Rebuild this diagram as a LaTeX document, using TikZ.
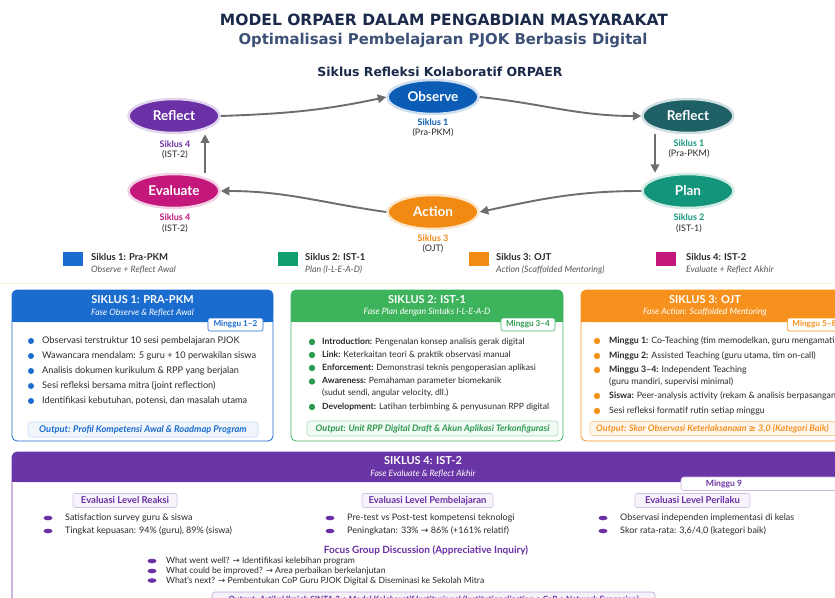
\documentclass[tikz,border=0pt]{standalone}
\usepackage{fontspec}
\usepackage{graphicx}
\setmainfont{Lato}
\newfontfamily\dvs{DejaVu Sans}
\usetikzlibrary{shapes.geometric,arrows.meta}
\newcommand{\rarw}{{\dvs\char"2192}}
\newcommand{\mygeq}{{\dvs\char"2265}}
\definecolor{navy}{HTML}{1B2A4A}
\definecolor{subt}{HTML}{3D5075}
\definecolor{txt}{HTML}{2A2A2A}
\definecolor{gtx}{HTML}{555555}
\definecolor{agray}{HTML}{6E6E6E}
\definecolor{obsblue}{HTML}{0B5CB5}
\definecolor{rteal}{HTML}{1F5F66}
\definecolor{pteal}{HTML}{12957A}
\definecolor{corange}{HTML}{F08A12}
\definecolor{cmag}{HTML}{C4177C}
\definecolor{cpurp}{HTML}{6B30A6}
\definecolor{cblue}{HTML}{1A6CCF}
\definecolor{cgreen}{HTML}{3DB35C}
\definecolor{dgreen}{HTML}{2E9A50}
\definecolor{corg}{HTML}{F7911E}
\definecolor{hpurp}{HTML}{6A35A6}
\begin{document}
\begin{tikzpicture}[x=1pt,y=-1pt,
  cyc/.style={ellipse,minimum width=91pt,minimum height=34pt,inner sep=0pt,text=white,font=\bfseries\fontsize{13.5}{15}\selectfont,line width=2.5pt},
  lab/.style={font=\bfseries\fontsize{9}{10}\selectfont,inner sep=0pt},
  sub/.style={font=\fontsize{9}{10}\selectfont,text=txt,inner sep=0pt},
  flow/.style={draw=agray,line width=1.9pt,-{Triangle[length=8.5pt,width=8.5pt]}},
  legt/.style={anchor=west,inner sep=0pt,font=\bfseries\fontsize{9.5}{11}\selectfont,text=txt},
  legs/.style={anchor=west,inner sep=0pt,font=\itshape\fontsize{8.8}{10}\selectfont,text=gtx},
  hd/.style={text=white,font=\bfseries\fontsize{11}{13}\selectfont,inner sep=0pt},
  hdsub/.style={text=white,font=\itshape\fontsize{8.7}{10}\selectfont,inner sep=0pt},
  tagbox/.style={draw,fill=white,rounded corners=2pt,font=\bfseries\fontsize{8.2}{9}\selectfont,inner sep=0pt,minimum height=13pt,line width=0.6pt},
  btxt/.style={anchor=west,inner sep=0pt,font=\fontsize{9.2}{11}\selectfont,text=txt},
  stxt/.style={anchor=west,inner sep=0pt,font=\fontsize{9}{10}\selectfont,text=txt},
  outb/.style={rounded corners=3pt,inner sep=0pt,minimum height=15pt,line width=0.6pt,font=\bfseries\itshape\fontsize{9.3}{10}\selectfont},
  lvl/.style={draw=cpurp!30,fill=cpurp!6,rounded corners=2pt,inner sep=0pt,minimum height=14pt,text=cpurp,font=\bfseries\fontsize{9.5}{10}\selectfont,line width=0.6pt}
]
\useasboundingbox (0,0) rectangle (835,597);
\clip (0,0) rectangle (835,597);
\fill[white] (0,0) rectangle (835,597);

% titles
\node[inner sep=0pt,text=navy,font=\dvs\bfseries] (t1) at (444,20) {\resizebox{448pt}{!}{MODEL ORPAER DALAM PENGABDIAN MASYARAKAT}};
\node[inner sep=0pt,text=subt,font=\dvs\bfseries] (t2) at (443,40) {\resizebox{409pt}{!}{Optimalisasi Pembelajaran PJOK Berbasis Digital}};
\node[inner sep=0pt,text=navy,font=\dvs\bfseries] (t3) at (440,71.5) {\resizebox{245pt}{!}{Siklus Refleksi Kolaboratif ORPAER}};

% cycle
\node[cyc,fill=obsblue,draw=obsblue!20] (ob) at (433,97) {Observe};
\node[cyc,fill=rteal,draw=rteal!20] (rr) at (688,116) {Reflect};
\node[cyc,fill=pteal,draw=pteal!20] (pl) at (688,191) {Plan};
\node[cyc,fill=corange,draw=corange!20] (ac) at (433,212) {Action};
\node[cyc,fill=cmag,draw=cmag!20] (ev) at (174,191) {Evaluate};
\node[cyc,fill=cpurp,draw=cpurp!20] (rl) at (174,116) {Reflect};

\node[lab,text=obsblue] (obl1) at (433,122) {Siklus 1};
\node[sub] (obl2) at (433,133) {(Pra-PKM)};
\node[lab,text=pteal] (rrl1) at (689,143) {Siklus 1};
\node[sub] (rrl2) at (689,154) {(Pra-PKM)};
\node[lab,text=pteal] (pll1) at (689,217) {Siklus 2};
\node[sub] (pll2) at (689,229) {(IST-1)};
\node[lab,text=corange] (acl1) at (433,238) {Siklus 3};
\node[sub] (acl2) at (433,249) {(OJT)};
\node[lab,text=cmag] (evl1) at (175,217) {Siklus 4};
\node[sub] (evl2) at (175,229) {(IST-2)};
\node[lab,text=cpurp] (rll1) at (175,144) {Siklus 4};
\node[sub] (rll2) at (175,155) {(IST-2)};

\draw[flow] (rl.east) to[out=2,in=192] (ob.west);
\draw[flow] (ob.east) to[out=-6,in=180] (rr.west);
\draw[flow] ([xshift=-33pt]rr.south) -- ([xshift=-33pt]pl.north);
\draw[flow] (pl.west) to[out=180,in=12] (ac.east);
\draw[flow] (ac.west) to[out=172,in=0] (ev.east);
\draw[flow] ([xshift=31pt]ev.north) -- ([xshift=31pt]rl.south);

% legend
\fill[cblue] (63,252) rectangle (83,266);
\node[legt] (lg1a) at (91,257) {Siklus 1: Pra-PKM};
\node[legs] (lg1b) at (91,269.5) {Observe + Reflect Awal};
\fill[pteal!90!green] (278,252) rectangle (298,266);
\node[legt] (lg2a) at (305,257) {Siklus 2: IST-1};
\node[legs] (lg2b) at (305,269.5) {Plan (I-L-E-A-D)};
\fill[corange] (469,252) rectangle (489,266);
\node[legt] (lg3a) at (496,257) {Siklus 3: OJT};
\node[legs] (lg3b) at (496,269.5) {Action (Scaffolded Mentoring)};
\fill[cmag] (656,252) rectangle (676,266);
\node[legt] (lg4a) at (686,257) {Siklus 4: IST-2};
\node[legs] (lg4b) at (686,269.5) {Evaluate + Reflect Akhir};
\draw[corange!12,line width=1pt] (0,283) -- (835,283);

% ===== Siklus 1 box
\draw[cblue,line width=0.8pt,rounded corners=5pt,fill=white] (12,290) rectangle (273,441);
\fill[cblue,rounded corners=5pt] (12,290) rectangle (273,322);
\fill[cblue] (12,312) rectangle (273,322);
\node[hd] (s1h) at (142.5,300) {SIKLUS 1: PRA-PKM};
\node[hdsub] (s1s) at (142.5,312.5) {Fase Observe \& Reflect Awal};
\node[tagbox,draw=cblue,text=cblue,minimum width=55pt] (s1t) at (235.5,324.5) {Minggu 1–2};
\foreach \y/\t [count=\i] in {341/{Observasi terstruktur 10 sesi pembelajaran PJOK},356/{Wawancara mendalam: 5 guru + 10 perwakilan siswa},371/{Analisis dokumen kurikulum \& RPP yang berjalan},386/{Sesi refleksi bersama mitra (joint reflection)},401/{Identifikasi kebutuhan, potensi, dan masalah utama}}{
  \fill[cblue] (31,\y) circle (3pt);
  \node[btxt] (s1b\i) at (42,\y) {\t};
}
\node[outb,draw=cblue!25,fill=cblue!6,text=cblue,minimum width=230pt] (s1o) at (143,429.5) {Output: Profil Kompetensi Awal \& Roadmap Program};

% ===== Siklus 2 box
\draw[cgreen,line width=0.8pt,rounded corners=5pt,fill=white] (291,290) rectangle (563,441);
\fill[cgreen,rounded corners=5pt] (291,290) rectangle (563,322);
\fill[cgreen] (291,312) rectangle (563,322);
\node[hd] (s2h) at (427,300) {SIKLUS 2: IST-1};
\node[hdsub] (s2s) at (427,312.5) {Fase Plan dengan Sintaks I-L-E-A-D};
\node[tagbox,draw=cgreen,text=dgreen,minimum width=54pt] (s2t) at (528,324.5) {Minggu 3–4};
\foreach \y/\t [count=\i] in {342/{\textbf{Introduction:} Pengenalan konsep analisis gerak digital},355/{\textbf{Link:} Keterkaitan teori \& praktik observasi manual},368/{\textbf{Enforcement:} Demonstrasi teknis pengoperasian aplikasi},381.5/{\textbf{Awareness:} Pemahaman parameter biomekanik},407/{\textbf{Development:} Latihan terbimbing \& penyusunan RPP digital}}{
  \fill[dgreen] (312,\y) circle (3.2pt);
  \node[btxt,font=\fontsize{8.6}{10}\selectfont] (s2b\i) at (322,\y) {\t};
}
\node[btxt,font=\fontsize{8.6}{10}\selectfont] (s2c) at (322,392.5) {(sudut sendi, angular velocity, dll.)};
\node[outb,draw=cgreen!45,fill=cgreen!7,text=dgreen,minimum width=251pt,font=\bfseries\itshape\fontsize{9}{10}\selectfont] (s2o) at (432.5,428.5) {Output: Unit RPP Digital Draft \& Akun Aplikasi Terkonfigurasi};

% ===== Siklus 3 box
\draw[corg,line width=0.8pt,rounded corners=5pt,fill=white] (581,290) rectangle (870,441);
\fill[corg,rounded corners=5pt] (581,290) rectangle (870,322);
\fill[corg] (581,312) rectangle (870,322);
\node[hd] (s3h) at (705,300) {SIKLUS 3: OJT};
\node[hdsub] (s3s) at (705,312.5) {Fase Action: Scaffolded Mentoring};
\node[tagbox,draw=corg,text=corg,minimum width=62pt,anchor=west] (s3t) at (787,324.5) {\hspace*{-8pt}Minggu 5–8};
\foreach \y/\t [count=\i] in {341/{\textbf{Minggu 1:} Co-Teaching (tim memodelkan, guru mengamati)},356/{\textbf{Minggu 2:} Assisted Teaching (guru utama, tim on-call)},370/{\textbf{Minggu 3–4:} Independent Teaching},396/{\textbf{Siswa:} Peer-analysis activity (rekam \& analisis berpasangan)},411/{Sesi refleksi formatif rutin setiap minggu}}{
  \fill[corg] (597,\y) circle (3.2pt);
  \node[btxt,font=\fontsize{8.8}{10}\selectfont] (s3b\i) at (609,\y) {\t};
}
\node[btxt,font=\fontsize{8.8}{10}\selectfont] (s3c) at (609,382) {(guru mandiri, supervisi minimal)};
\draw[corg!45,fill=corg!8,rounded corners=3pt,line width=0.6pt] (590,421.5) rectangle (880,435.5);
\node[anchor=west,inner sep=0pt,text=corg,font=\bfseries\itshape\fontsize{9}{10}\selectfont] (s3o) at (596,428.5) {Output: Skor Observasi Keterlaksanaan \mygeq{} 3,0 (Kategori Baik)};

% ===== Siklus 4 box
\draw[hpurp,line width=0.8pt,rounded corners=5pt,fill=white] (12,452) rectangle (880,640);
\fill[hpurp,rounded corners=5pt] (12,452) rectangle (880,482);
\fill[hpurp] (12,472) rectangle (880,482);
\node[hd] (s4h) at (423,461) {SIKLUS 4: IST-2};
\node[hdsub] (s4s) at (423,474) {Fase Evaluate \& Reflect Akhir};
\draw[hpurp!35,fill=white,rounded corners=3pt,line width=0.6pt] (681,477) rectangle (890,490.5);
\node[inner sep=0pt,text=hpurp,font=\bfseries\fontsize{8.6}{10}\selectfont] (s4t) at (724,484) {Minggu 9};

\node[lvl,minimum width=104pt] (lv1) at (125,500.5) {Evaluasi Level Reaksi};
\node[lvl,minimum width=131pt] (lv2) at (427.5,500.5) {Evaluasi Level Pembelajaran};
\node[lvl,minimum width=115pt] (lv3) at (692.5,500.5) {Evaluasi Level Perilaku};

\foreach \x/\y/\t [count=\i] in {48/518/{Satisfaction survey guru \& siswa},48/531/{Tingkat kepuasan: 94\% (guru), 89\% (siswa)},330/518/{Pre-test vs Post-test kompetensi teknologi},330/531/{Peningkatan: 33\% \rarw{} 86\% (+161\% relatif)},603/518/{Observasi independen implementasi di kelas}}{
  \fill[cpurp] (\x,\y) ellipse (4.5pt and 2.3pt);
  \node[stxt] (s4b\i) at (\x+17,\y) {\t};
}
\fill[cpurp] (603,531) ellipse (4.5pt and 2.3pt);
\node[stxt] (s4b6) at (620,531) {Skor rata-rata: 3,6/4,0 (kategori baik)};

\node[inner sep=0pt,text=cpurp,font=\bfseries\fontsize{10}{11}\selectfont] (fgd) at (426,550) {Focus Group Discussion (Appreciative Inquiry)};
\foreach \y/\t [count=\i] in {561/{What went well? \rarw{} Identifikasi kelebihan program},571/{What could be improved? \rarw{} Area perbaikan berkelanjutan},580.5/{What's next? \rarw{} Pembentukan CoP Guru PJOK Digital \& Diseminasi ke Sekolah Mitra}}{
  \fill[cpurp] (152,\y) ellipse (4.5pt and 2.3pt);
  \node[stxt,font=\fontsize{8.6}{10}\selectfont] (fg\i) at (166,\y) {\t};
}
\node[outb,draw=cpurp!45,fill=cpurp!7,text=cpurp,minimum width=443pt,minimum height=16pt,font=\bfseries\itshape\fontsize{8.6}{10}\selectfont] (s4o) at (433.5,600) {Output: Artikel Ilmiah SINTA 3 + Model Kolaboratif Institusional (Institutionalization + CoP + Network Expansion)};
\end{tikzpicture}
\end{document}
